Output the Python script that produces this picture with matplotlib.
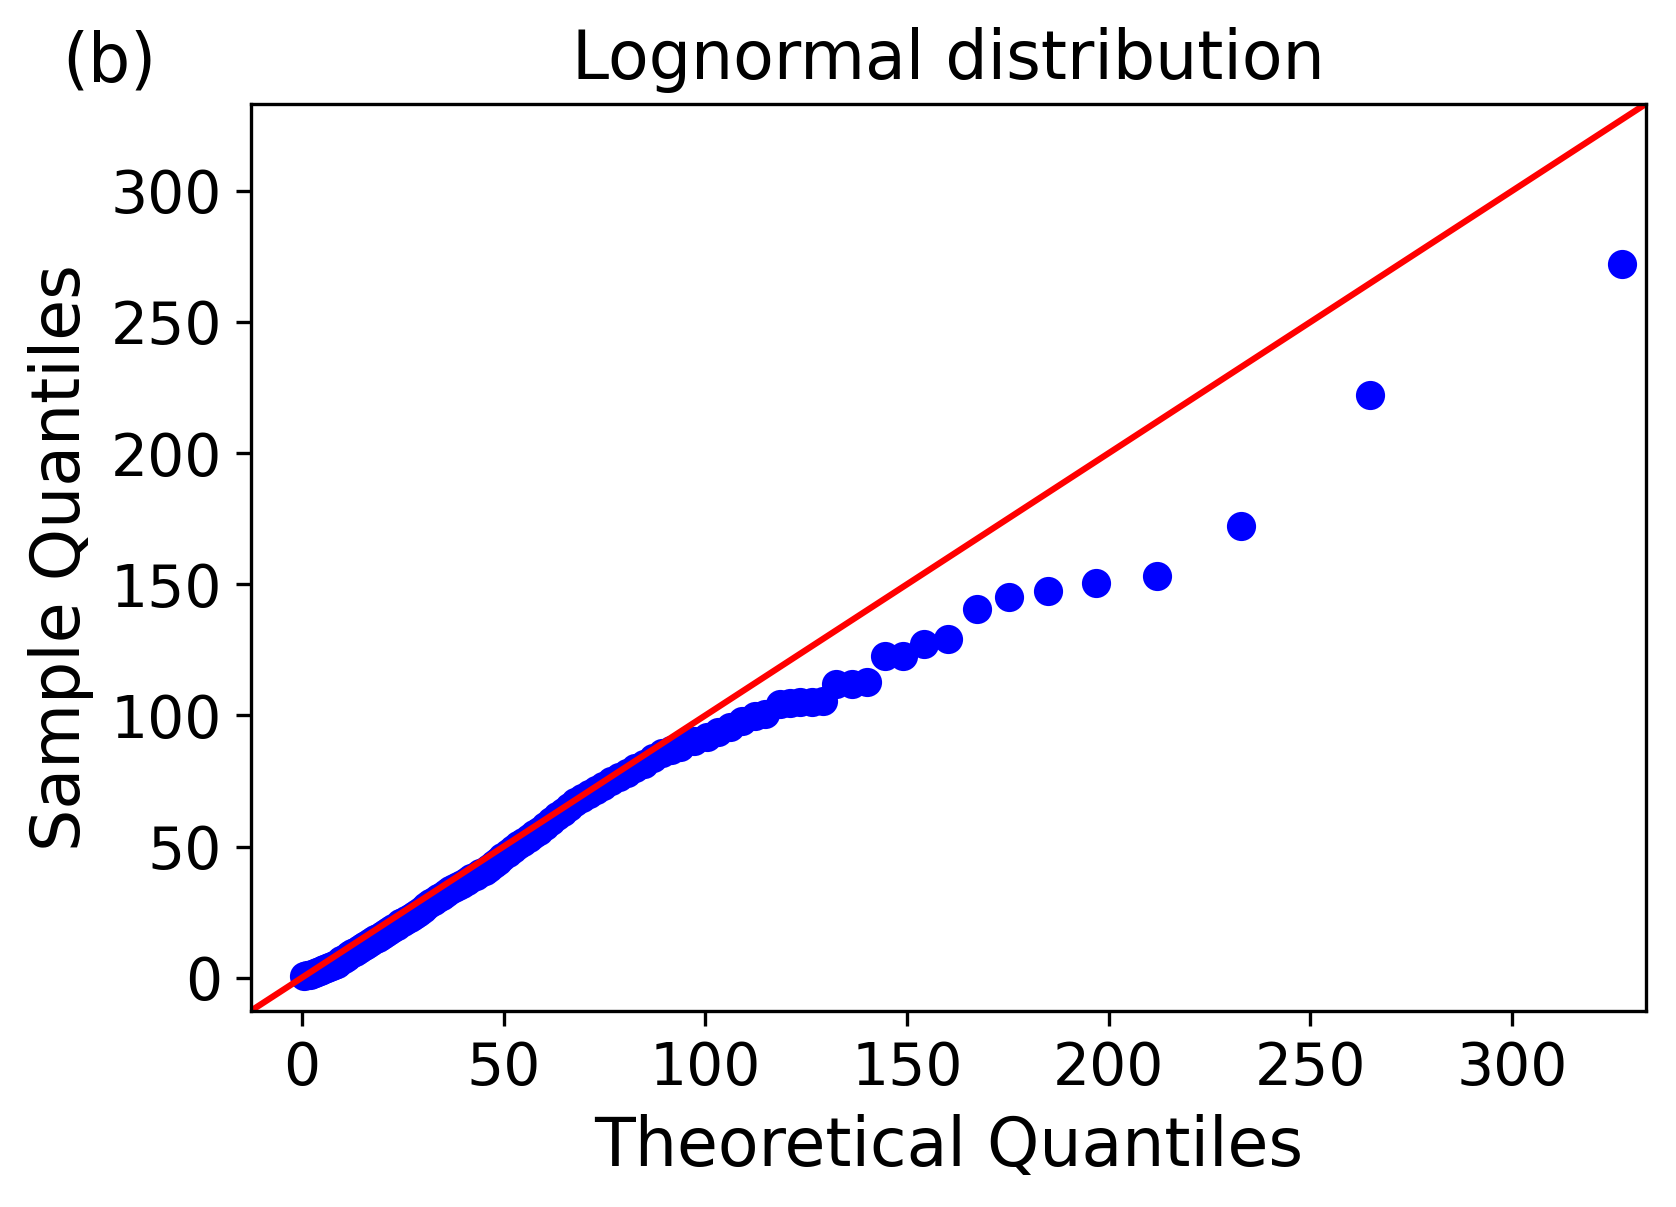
import numpy as np
import matplotlib
matplotlib.use("Agg")
import matplotlib.pyplot as plt

# quantis teoricos (eixo x) e amostrais (eixo y)
teoricos = [0.5, 1.2, 1.9, 2.6, 3.2, 3.8, 4.4, 5.0,
            5.6, 6.2, 6.8, 7.4, 8.0, 8.6, 9.2, 9.8,
            10.4, 11.1, 11.8, 12.5, 13.2, 13.9, 14.6, 15.3, 16.0, 16.7, 17.4, 18.1, 18.8, 19.5,
            20.3, 21.1, 21.9, 22.7, 23.5, 24.3, 25.1, 25.9, 26.7, 27.5, 28.3, 29.1, 29.9,
            30.8, 31.8, 32.8, 33.8, 34.8, 35.8, 36.8, 37.8, 38.8, 39.8,
            40.9, 42.0, 43.1, 44.2, 45.3, 46.4, 47.5, 48.6, 49.7,
            51.0, 52.3, 53.6, 54.9, 56.2, 57.5, 58.8,
            60.2, 61.7, 63.2, 64.7, 66.2, 67.8, 69.4,
            71.1, 72.9, 74.7, 76.6, 78.5,
            80.5, 82.6, 84.8, 87.0, 89.3, 91.5,
            93.8, 97.1, 100.4, 103.2, 106.2, 109.1, 112.4, 114.8, 118.5, 121.0,
            123.5, 126.4, 129.2, 132.5, 136.4, 140.1, 144.6, 149.1, 154.3, 160.2,
            167.3, 175.2, 184.9, 196.9, 212.0, 232.9, 264.8, 327.2]
amostra = [0.8, 1.0, 1.1, 1.3, 1.8, 2.2, 2.5, 2.9,
           3.4, 3.8, 4.2, 4.6, 5.0, 5.4, 5.9, 6.6,
           7.2, 7.8, 8.5, 9.3, 9.9, 10.6, 11.4, 12.0, 12.6, 13.4, 14.1, 14.6, 15.2, 15.9,
           16.7, 17.6, 18.3, 19.0, 19.9, 20.7, 21.4, 22.0, 22.7, 23.5, 24.3, 25.2, 26.1,
           27.2, 28.3, 29.4, 30.2, 31.1, 32.2, 33.3, 34.1, 35.0, 35.9,
           36.9, 38.0, 38.8, 39.8, 40.8, 41.9, 43.2, 44.6, 46.0,
           47.6, 49.2, 50.6, 51.9, 53.2, 54.6, 56.0,
           57.8, 59.7, 61.6, 63.3, 65.0, 66.8, 68.4,
           70.0, 71.6, 73.1, 75.0, 76.6,
           78.2, 79.8, 81.4, 83.6, 85.8, 86.9,
           87.8, 90.3, 91.6, 93.5, 95.4, 97.9, 99.9, 100.4, 104.5, 104.8,
           105.0, 105.2, 105.6, 111.8, 111.9, 112.7, 122.5, 122.7, 127.4, 129.3,
           140.4, 145.3, 147.3, 150.3, 153.3, 172.4, 222.3, 272.3]

limites = (-12.6, 333.1)

fig = plt.figure(figsize=(1676 / 300, 1207 / 300), dpi=300)
ax = fig.add_axes([0.1498, 0.1626, 0.8321, 0.7512])

ax.plot(teoricos, amostra, 'bo')
ax.axline((0, 0), slope=1, color='r', linewidth=1.5)

ax.set_xlim(limites)
ax.set_ylim(limites)
ax.set_xticks([0, 50, 100, 150, 200, 250, 300])
ax.set_yticks([0, 50, 100, 150, 200, 250, 300])
ax.tick_params(labelsize=14)

ax.set_xlabel('Theoretical Quantiles', fontsize=16)
ax.set_ylabel('Sample Quantiles', fontsize=16)
ax.set_title('Lognormal distribution', fontsize=16)
fig.text(0.037, 0.9323, '(b)', fontsize=16, ha='left', va='baseline')

fig.savefig('out.png', dpi=300)
